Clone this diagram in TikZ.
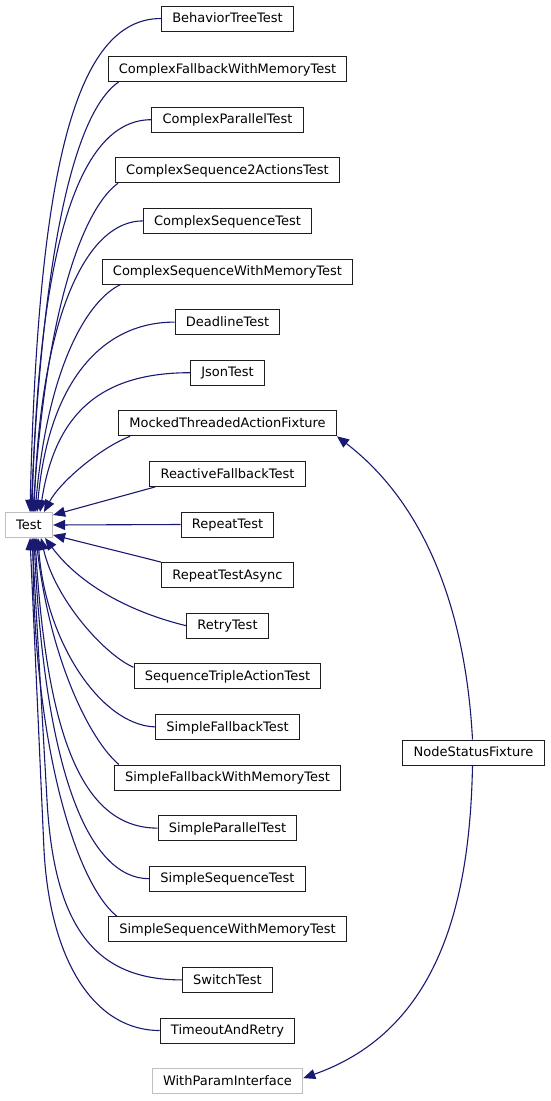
\documentclass[tikz,border=0pt]{standalone}
\usepackage{fontspec}
\setmainfont{DejaVu Sans}
\usetikzlibrary{arrows.meta,calc}
\definecolor{edgeblue}{RGB}{25,25,112}
\definecolor{boxline}{RGB}{30,30,30}
\definecolor{grayline}{RGB}{191,191,191}
\begin{document}
\begin{tikzpicture}[x=1pt,y=-1pt,
  cls/.style={draw=boxline, line width=1pt, fill=white, minimum height=25pt,
    inner xsep=10.8pt, inner ysep=0pt, text height=8.8pt, text depth=0.5pt,
    font=\fontsize{13}{15}\selectfont},
  ext/.style={cls, draw=grayline},
  inh/.style={draw=edgeblue, line width=1.1pt, -{Triangle[length=12pt,width=10pt]}}]
\useasboundingbox (0,0) rectangle (551,1101);
% nodes
\node[cls] (BT)   at (227.5,18.5)  {BehaviorTreeTest};
\node[cls] (CFWM) at (227.5,69.1)  {ComplexFallbackWithMemoryTest};
\node[cls] (CP)   at (227.5,119.7) {ComplexParallelTest};
\node[cls] (CSA)  at (227.5,170.3) {ComplexSequence2ActionsTest};
\node[cls] (CS)   at (227.5,220.9) {ComplexSequenceTest};
\node[cls] (CSWM) at (227.5,271.5) {ComplexSequenceWithMemoryTest};
\node[cls] (DL)   at (227.5,322.1) {DeadlineTest};
\node[cls] (JT)   at (227.5,372.7) {JsonTest};
\node[cls] (MTAF) at (227.5,423.3) {MockedThreadedActionFixture};
\node[cls] (RF)   at (227.5,473.9) {ReactiveFallbackTest};
\node[cls] (RT)   at (227.5,524.5) {RepeatTest};
\node[cls] (RTA)  at (227.5,575.1) {RepeatTestAsync};
\node[cls] (RY)   at (227.5,625.7) {RetryTest};
\node[cls] (STA)  at (227.5,676.3) {SequenceTripleActionTest};
\node[cls] (SF)   at (227.5,726.9) {SimpleFallbackTest};
\node[cls] (SFWM) at (227.5,777.5) {SimpleFallbackWithMemoryTest};
\node[cls] (SP)   at (227.5,828.1) {SimpleParallelTest};
\node[cls] (SS)   at (227.5,878.7) {SimpleSequenceTest};
\node[cls] (SSWM) at (227.5,929.3) {SimpleSequenceWithMemoryTest};
\node[cls] (SW)   at (227.5,979.9) {SwitchTest};
\node[cls] (TR)   at (227.5,1030.5) {TimeoutAndRetry};
\node[ext] (WPI)  at (227.5,1081.1) {WithParamInterface};
\node[ext] (Test) at (29,525) {Test};
\node[cls] (NSF)  at (473.5,752.5) {NodeStatusFixture};
% edges above Test
\draw[inh] (BT.west) .. controls (75,18.5) and (38,170) .. ([xshift=1pt]Test.north);
\draw[inh] ($(CFWM.south west)+(11,0)$) .. controls (85,105) and (45,200) .. ([xshift=2pt]Test.north);
\draw[inh] (CP.west) .. controls (80,119.7) and (39,242) .. ([xshift=3pt]Test.north);
\draw[inh] ($(CSA.south west)+(3,0)$) .. controls (88,205) and (48,290) .. ([xshift=4pt]Test.north);
\draw[inh] (CS.west) .. controls (88,220.9) and (41,311) .. ([xshift=5pt]Test.north);
\draw[inh] ($(CSWM.south west)+(19,0)$) .. controls (88,300) and (48,365) .. ([xshift=6pt]Test.north);
\draw[inh] (DL.west) .. controls (100,322) and (48,385) .. ([xshift=8pt]Test.north);
\draw[inh] (JT.west) .. controls (100,372.7) and (55,414) .. ([xshift=11pt]Test.north);
\draw[inh] ($(MTAF.south west)+(12,0)$) .. controls (100,448) and (60,482) .. ([xshift=15pt]Test.north);
% edges to Test's side
\draw[inh] ($(RF.south west)+(6,0)$) -- ($(Test.north east)+(0,3)$);
\draw[inh] (RT.west) -- (Test.east);
\draw[inh] (RTA.north west) -- ($(Test.south east)+(0,-3)$);
% edges below Test
\draw[inh] (RY.west) .. controls (130,612) and (80,585) .. ([xshift=16pt]Test.south);
\draw[inh] ($(STA.north west)+(0,4)$) .. controls (105,655) and (55,600) .. ([xshift=12pt]Test.south);
\draw[inh] (SF.west) .. controls (100,725) and (45,640) .. ([xshift=9pt]Test.south);
\draw[inh] ($(SFWM.north west)+(5,0)$) .. controls (90,740) and (50,660) .. ([xshift=7pt]Test.south);
\draw[inh] (SP.west) .. controls (84,828) and (47,741) .. ([xshift=6pt]Test.south);
\draw[inh] (SS.west) .. controls (90,878.7) and (45,777) .. ([xshift=5pt]Test.south);
\draw[inh] ($(SSWM.north west)+(9,0)$) .. controls (74.5,882) and (33,740) .. ([xshift=4pt]Test.south);
\draw[inh] (SW.west) .. controls (95,980) and (54,927) .. (47,800) -- ([xshift=3pt]Test.south);
\draw[inh] (TR.west) .. controls (95,1030.5) and (50,962) .. (44,850) -- ([xshift=1pt]Test.south);
% NodeStatusFixture
\draw[inh] ([xshift=-1pt]NSF.north) .. controls (465,600) and (420,500) .. (MTAF.south east);
\draw[inh] ([xshift=-1pt]NSF.south) .. controls (470,900) and (440,1030) .. ($(WPI.east)+(0,-3)$);
\end{tikzpicture}
\end{document}
